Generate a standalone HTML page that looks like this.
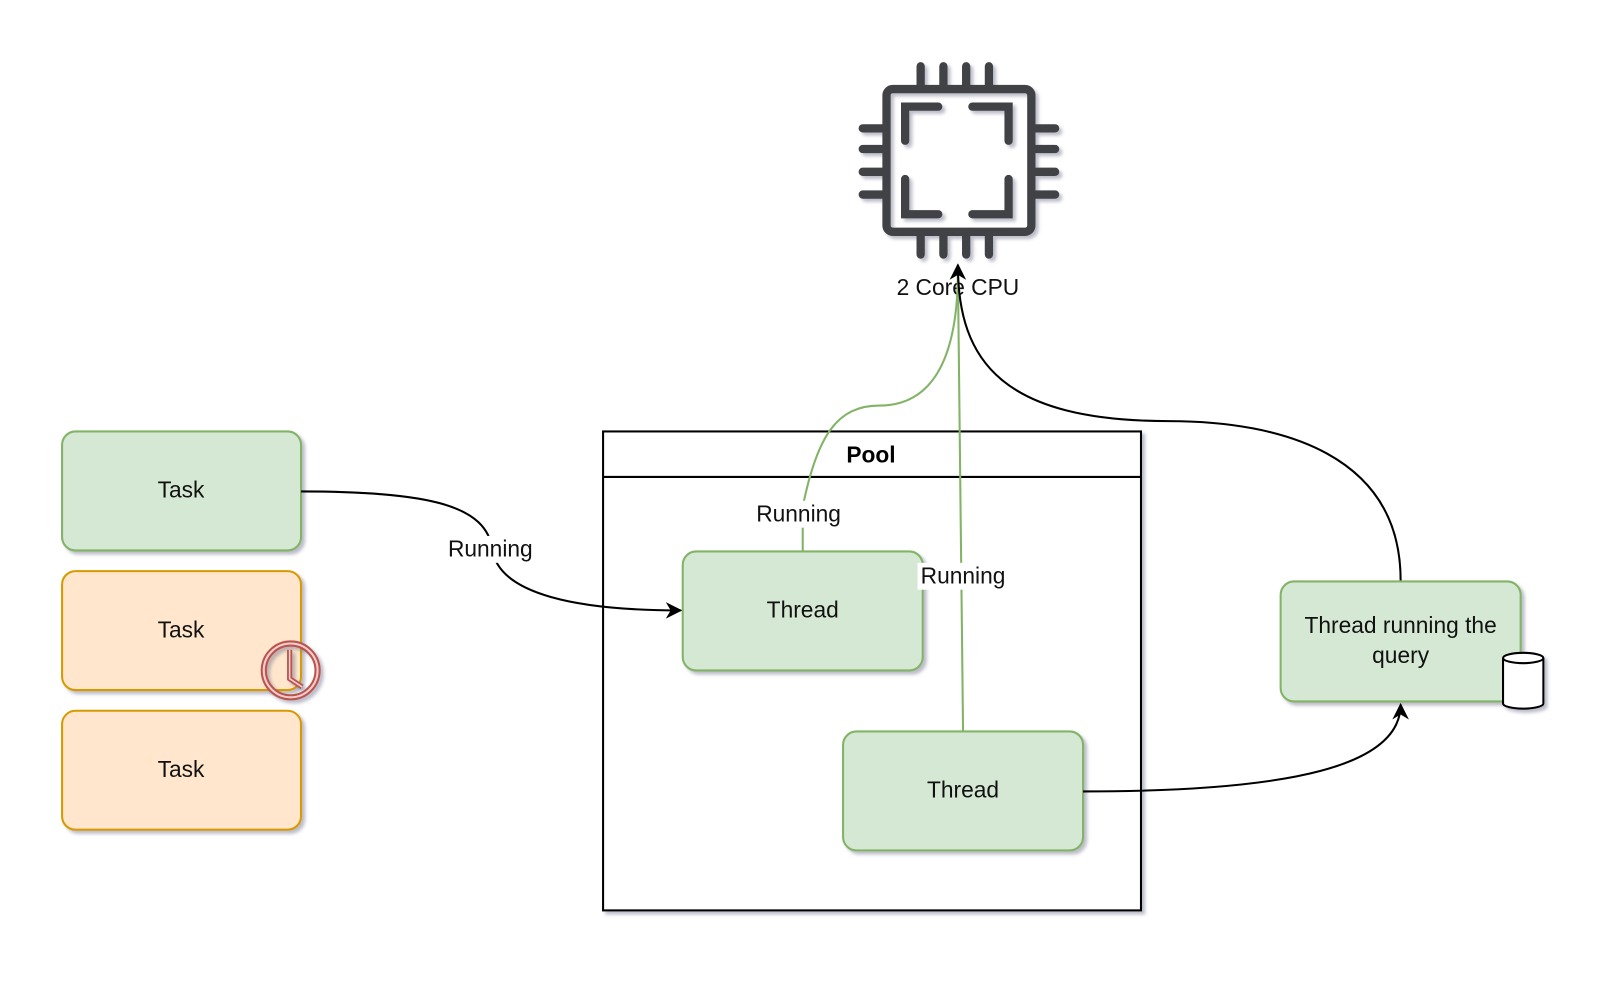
<!DOCTYPE html>
<html><head><meta charset="utf-8"><style>
html,body{margin:0;padding:0;background:#fff;}
svg{display:block;}
text{font-family:"Liberation Sans",Arial,sans-serif;}
</style></head><body>
<svg width="1622" height="986" viewBox="0 0 1568 953" xmlns="http://www.w3.org/2000/svg">
<defs>
<marker id="ar" viewBox="0 0 10 10" refX="9" refY="5" markerWidth="16" markerHeight="16" orient="auto-start-reverse" markerUnits="userSpaceOnUse">
<path d="M0,0 L10,5 L0,10 L3,5 Z" fill="#000"/></marker>
<filter id="sh" x="-20%" y="-20%" width="150%" height="150%"><feDropShadow dx="3" dy="3" stdDeviation="1.5" flood-color="#6b6f8a" flood-opacity="0.45"/></filter>
</defs>
<!-- CPU -->
<g stroke="#404345" stroke-width="8" stroke-linecap="round" fill="none" filter="url(#sh)">
<rect x="857" y="86" width="140" height="138" rx="6"/>
<path d="M890 64V84M912 64V84M934 64V84M956 64V84M890 226V246M912 226V246M934 226V246M956 226V246"/>
<path d="M834 124H855M834 144H855M834 166H855M834 188H855M999 124H1020M999 144H1020M999 166H1020M999 188H1020"/>
<path d="M875 136V103H907M940 103H975V136M875 173V207H907M940 207H975V173"/>
</g>
<text x="926" y="285" font-size="22" text-anchor="middle" fill="#111">2 Core CPU</text>
<!-- Tasks -->
<g filter="url(#sh)" stroke-width="2">
<rect x="60" y="417" width="231" height="115" rx="13" fill="#d5e8d4" stroke="#82b366"/>
<rect x="60" y="552" width="231" height="115" rx="13" fill="#ffe6cc" stroke="#d79b00"/>
<rect x="60" y="687" width="231" height="115" rx="13" fill="#ffe6cc" stroke="#d79b00"/>
</g>
<g font-size="22" text-anchor="middle" fill="#111">
<text x="175" y="481">Task</text><text x="175" y="616">Task</text><text x="175" y="751">Task</text>
</g>
<g filter="url(#sh)">
<circle cx="281" cy="648" r="26" fill="none" stroke="#b85450" stroke-width="6"/>
<circle cx="281" cy="648" r="26" fill="none" stroke="#f8cecc" stroke-width="2"/>
<path d="M280 628V656L292 664" fill="none" stroke="#b85450" stroke-width="5"/>
<path d="M280 628V656L292 664" fill="none" stroke="#f8cecc" stroke-width="1.5"/>
</g>
<!-- Pool -->
<g filter="url(#sh)">
<rect x="583" y="417" width="520" height="463" fill="#fff" stroke="#000" stroke-width="2"/>
</g>
<line x1="583" y1="461" x2="1103" y2="461" stroke="#000" stroke-width="2"/>
<text x="842" y="447" font-size="22" font-weight="bold" text-anchor="middle">Pool</text>
<!-- green edges -->
<path d="M776 533V490C790 420 810 392 850 392C905 392 926 340 926 262" fill="none" stroke="#82b366" stroke-width="2"/>
<path d="M931 707L926 262" fill="none" stroke="#82b366" stroke-width="2"/>
<!-- Threads -->
<g filter="url(#sh)" stroke-width="2" fill="#d5e8d4" stroke="#82b366">
<rect x="660" y="533" width="232" height="115" rx="13"/>
<rect x="815" y="707" width="232" height="115" rx="13"/>
<rect x="1238" y="562" width="232" height="116" rx="13"/>
</g>
<g font-size="22" text-anchor="middle" fill="#111">
<text x="776" y="597">Thread</text><text x="931" y="771">Thread</text>
<text x="1354" y="612">Thread running the</text><text x="1354" y="641">query</text>
</g>
<!-- cylinder -->
<g filter="url(#sh)" stroke="#000" stroke-width="2" fill="#fff">
<path d="M1453 636V680A19.5 5 0 0 0 1492 680V636"/>
<ellipse cx="1472.5" cy="636" rx="19.5" ry="5"/>
</g>
<!-- black edges -->
<path d="M291 475C420 475 470 490 476 531C482 575 560 590 658 590" fill="none" stroke="#000" stroke-width="2" marker-end="url(#ar)"/>
<path d="M1354 561C1354 440 1240 407 1130 407C970 407 926 350 926 256" fill="none" stroke="#000" stroke-width="2" marker-end="url(#ar)"/>
<path d="M1047 765C1250 765 1354 740 1354 681" fill="none" stroke="#000" stroke-width="2" marker-end="url(#ar)"/>
<!-- labels -->
<g font-size="22" text-anchor="middle" fill="#111">
<rect x="430" y="518" width="88" height="26" fill="#fff"/><text x="474" y="538">Running</text>
<rect x="728" y="484" width="88" height="26" fill="#fff"/><text x="772" y="504">Running</text>
<rect x="887" y="544" width="88" height="26" fill="#fff"/><text x="931" y="564">Running</text>
</g>
</svg>
</body></html>
